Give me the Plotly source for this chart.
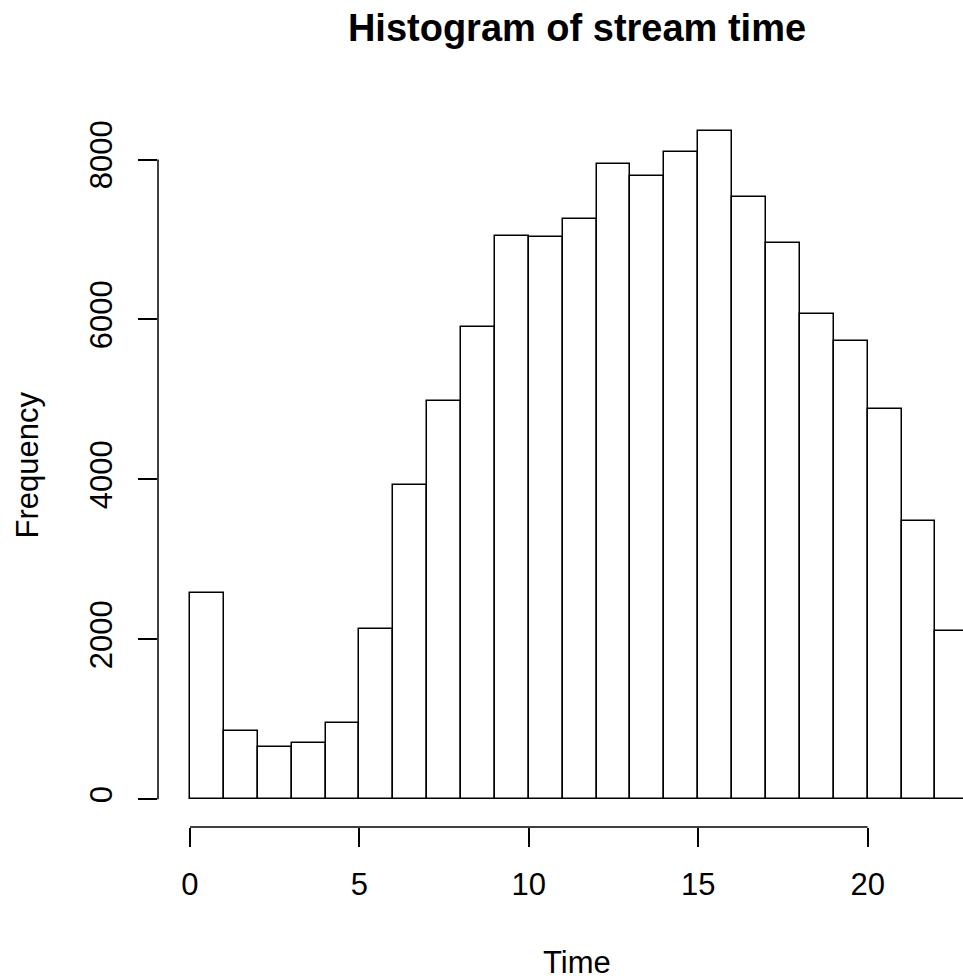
import plotly.graph_objects as go

# Histogram bins (left edges, width 1) and counts
bin_starts = list(range(23))
bin_width = 1
counts = [2580, 852, 652, 702, 953, 2128, 3928, 4975, 5900, 7047, 7025, 7253,
          7950, 7800, 8100, 8357, 7526, 6953, 6072, 5727, 4875, 3476, 2106]

x_ticks = [0, 5, 10, 15, 20]
y_ticks = [0, 2000, 4000, 6000, 8000]

title_text = "Histogram of stream time"
x_title = "Time"
y_title = "Frequency"

FONT = "Liberation Sans, Arial, Helvetica, sans-serif"
W, H = 963, 979
L, R, T, B = 158, 0, 104, 152
pw = W - L - R
ph = H - T - B

centers = [s + bin_width / 2 for s in bin_starts]

fig = go.Figure()
fig.add_trace(go.Bar(
    x=centers, y=counts, width=[bin_width] * len(counts),
    marker=dict(color="white", line=dict(color="black", width=1.5)),
    hoverinfo="x+y",
))

fig.update_layout(
    width=W, height=H,
    margin=dict(l=L, r=R, t=T, b=B, pad=0),
    plot_bgcolor="white", paper_bgcolor="white",
    showlegend=False,
    font=dict(family=FONT, size=31, color="black"),
    title=dict(text="<b>" + title_text + "</b>", font=dict(family=FONT, size=38, color="black"),
               xref="container", x=577 / W, xanchor="center",
               yref="container", y=1 - 28 / H, yanchor="middle"),
    xaxis=dict(range=[-0.944, 22.815], showgrid=False, zeroline=False, showline=False,
               tickmode="array", tickvals=x_ticks, ticktext=[str(v) for v in x_ticks],
               ticks="outside", ticklen=19, tickwidth=1.5, tickcolor="black",
               ticklabelstandoff=11,
               tickfont=dict(family=FONT, size=31, color="black")),
    yaxis=dict(range=[-346, 8694], showgrid=False, zeroline=False, showline=False,
               tickmode="array", tickvals=y_ticks, ticktext=[str(v) for v in y_ticks],
               ticks="outside", ticklen=19, tickwidth=1.5, tickcolor="black",
               tickangle=-90, ticklabelstandoff=14,
               tickfont=dict(family=FONT, size=31, color="black")),
    bargap=0,
)

# R-style partial axis lines
fig.add_shape(type="line", xref="paper", yref="y", x0=0, x1=0, y0=y_ticks[0], y1=y_ticks[-1],
              line=dict(color="black", width=1.5))
fig.add_shape(type="line", xref="x", yref="paper", x0=x_ticks[0], x1=x_ticks[-1], y0=0, y1=0,
              line=dict(color="black", width=1.5))

fig.add_annotation(text=x_title, xref="paper", yref="paper",
                   x=(577 - L) / pw, y=(H - B - 962) / ph,
                   xanchor="center", yanchor="middle", showarrow=False,
                   font=dict(family=FONT, size=31, color="black"))
fig.add_annotation(text=y_title, xref="paper", yref="paper",
                   x=(27 - L) / pw, y=0.5, textangle=-90,
                   xanchor="center", yanchor="middle", showarrow=False,
                   font=dict(family=FONT, size=31, color="black"))

fig.write_html("out.html", config={"displayModeBar": False},
               post_script="document.body.style.margin='0';document.body.style.overflow='hidden';")
